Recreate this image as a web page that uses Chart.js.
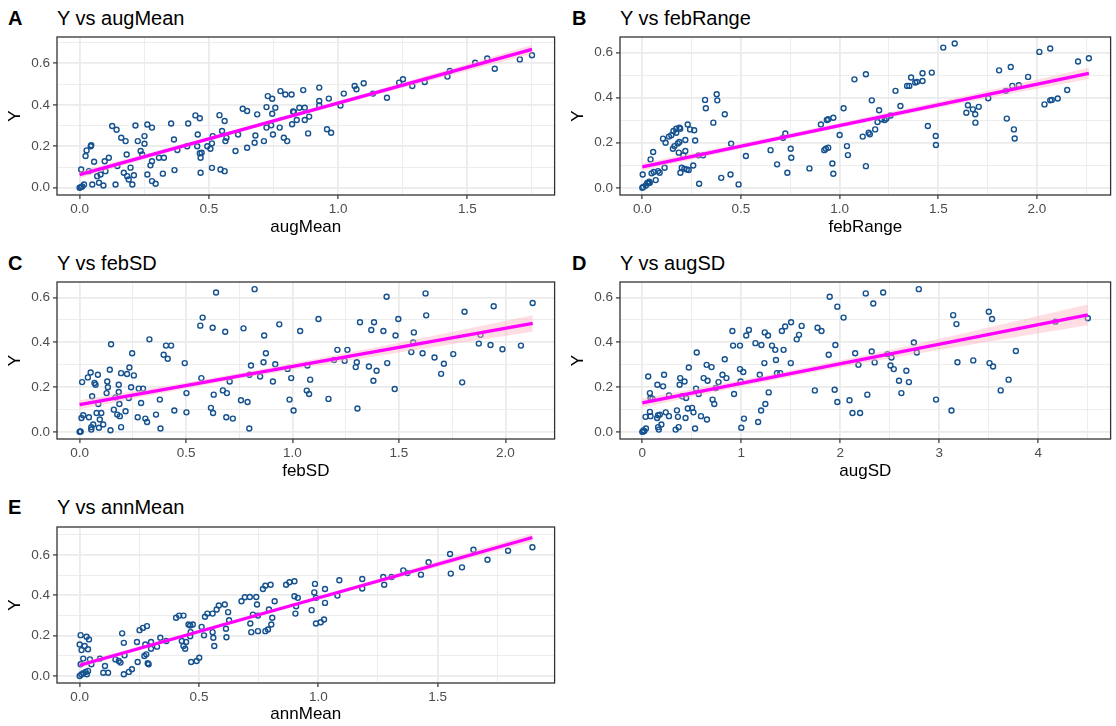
<!DOCTYPE html>
<html>
<head>
<meta charset="utf-8">
<script src="https://cdn.jsdelivr.net/npm/chart.js@4.4.1/dist/chart.umd.min.js"></script>
<style>
  body { margin: 0; background: #fff; width: 1116px; height: 726px; position: relative; overflow: hidden;
         font-family: "Liberation Sans", Arial, sans-serif; }
  canvas { position: absolute; }
  .tag { position: absolute; font-weight: bold; font-size: 20px; line-height: 20px; color: #000; }
  .title { position: absolute; font-size: 20px; line-height: 20px; color: #000; white-space: nowrap; }
</style>
</head>
<body>
<div class="tag" style="left:8px;top:8px">A</div>
<div class="title" style="left:57px;top:8px">Y vs augMean</div>
<div class="tag" style="left:572px;top:8px">B</div>
<div class="title" style="left:620px;top:8px">Y vs febRange</div>
<div class="tag" style="left:8px;top:253px">C</div>
<div class="title" style="left:57px;top:253px">Y vs febSD</div>
<div class="tag" style="left:572px;top:253px">D</div>
<div class="title" style="left:620px;top:253px">Y vs augSD</div>
<div class="tag" style="left:8px;top:497px">E</div>
<div class="title" style="left:57px;top:497px">Y vs annMean</div>

<canvas id="chartA" width="560" height="210" style="left:0px;top:30px"></canvas>
<canvas id="chartB" width="553" height="210" style="left:563px;top:30px"></canvas>
<canvas id="chartC" width="560" height="209" style="left:0px;top:275px"></canvas>
<canvas id="chartD" width="553" height="209" style="left:563px;top:275px"></canvas>
<canvas id="chartE" width="560" height="206" style="left:0px;top:520px"></canvas>

<script>
// ---- shared y axis ----
const yMajor = [0, 0.2, 0.4, 0.6];
const yLabels = ['0.0', '0.2', '0.4', '0.6'];
const yMinor = [0.1, 0.3, 0.5, 0.7];

// ---- A: Y vs augMean ----
const augMeanX = [0, 0.005, 0.01, 0.006, 0.023, 0.027, 0.043, 0.045, 0.017, 0.049, 0.056, 0.036, 0.068, 0.075, 0.092, 0.081, 0.1, 0.097, 0.113,
  0.126, 0.143, 0.139, 0.146, 0.161, 0.178, 0.182, 0.171, 0.184, 0.19, 0.197, 0.204, 0.21, 0.216, 0.225, 0.236, 0.242, 0.251, 0.251,
  0.262, 0.262, 0.28, 0.28, 0.274, 0.28, 0.294, 0.307, 0.326, 0.322, 0.354, 0.365, 0.367, 0.378, 0.42, 0.416, 0.448, 0.457, 0.455,
  0.465, 0.465, 0.468, 0.472, 0.468, 0.494, 0.506, 0.512, 0.515, 0.512, 0.541, 0.545, 0.551, 0.561, 0.561, 0.564, 0.568, 0.603, 0.613,
  0.631, 0.648, 0.648, 0.677, 0.68, 0.687, 0.713, 0.723, 0.728, 0.723, 0.745, 0.745, 0.748, 0.757, 0.741, 0.774, 0.777, 0.796, 0.79,
  0.803, 0.82, 0.826, 0.822, 0.84, 0.829, 0.85, 0.865, 0.871, 0.871, 0.884, 0.888, 0.927, 0.927, 0.927, 0.957, 0.964, 0.973, 1.009,
  1.022, 1.064, 1.071, 1.099, 1.135, 1.189, 1.236, 1.251, 1.287, 1.335, 1.423, 1.432, 1.53, 1.577, 1.606, 1.703, 1.75];
const augMeanY = [0, 0.003, 0.006, 0.088, 0.153, 0.18, 0.2, 0.205, 0.016, 0.016, 0.125, 0.08, 0.056, 0.024, 0.011, 0.064, 0.08, 0.128, 0.145,
  0.298, 0.28, 0.016, 0.105, 0.241, 0.225, 0.16, 0.072, 0.056, 0.04, 0.097, 0.016, 0.06, 0.30, 0.225, 0.177, 0.16, 0.249, 0.212,
  0.064, 0.305, 0.29, 0.032, 0.108, 0.128, 0.019, 0.145, 0.145, 0.068, 0.31, 0.233, 0.085, 0.182, 0.31, 0.2, 0.349, 0.257, 0.2,
  0.335, 0.166, 0.145, 0.169, 0.072, 0.2, 0.188, 0.096, 0.249, 0.214, 0.35, 0.088, 0.274, 0.322, 0.08, 0.225, 0.241, 0.177, 0.257,
  0.381, 0.37, 0.193, 0.217, 0.252, 0.354, 0.225, 0.389, 0.442, 0.29, 0.429, 0.357, 0.257, 0.386, 0.301, 0.29, 0.466, 0.45, 0.241,
  0.225, 0.45, 0.368, 0.306, 0.327, 0.365, 0.386, 0.471, 0.386, 0.327, 0.262, 0.343, 0.483, 0.418, 0.397, 0.282, 0.43, 0.265, 0.397,
  0.454, 0.491, 0.475, 0.504, 0.454, 0.434, 0.507, 0.523, 0.491, 0.51, 0.536, 0.563, 0.603, 0.623, 0.574, 0.619, 0.639];
const augMeanTicks = [0, 0.5, 1.0, 1.5];
const augMeanLabels = ['0.0', '0.5', '1.0', '1.5'];
const augMeanMinor = [0.25, 0.75, 1.25, 1.75];
const augMeanFitX = [0, 1.75];
const augMeanFitY = [0.063, 0.667];
const augMeanBandX = [0, 0.45, 0.9, 1.35, 1.75];
const augMeanBandLo = [0.047, 0.208, 0.365, 0.515, 0.645];
const augMeanBandHi = [0.079, 0.228, 0.383, 0.543, 0.689];

// ---- B: Y vs febRange ----
const febRangeX = [0, 0.005, 0.018, 0.03, 0.038, 0.002, 0.025, 0.035, 0.042, 0.055, 0.047, 0.058, 0.068, 0.08, 0.088, 0.105, 0.118, 0.113,
  0.135, 0.147, 0.158, 0.163, 0.172, 0.172, 0.155, 0.18, 0.188, 0.192, 0.185, 0.188, 0.193, 0.2, 0.208, 0.218, 0.218, 0.213, 0.225,
  0.23, 0.235, 0.242, 0.258, 0.263, 0.268, 0.285, 0.288, 0.308, 0.318, 0.322, 0.36, 0.377, 0.38, 0.4, 0.418, 0.447, 0.45, 0.488,
  0.525, 0.65, 0.683, 0.713, 0.725, 0.735, 0.752, 0.755, 0.847, 0.905, 0.935, 0.942, 0.968, 0.922, 0.93, 0.942, 0.963, 0.968,
  1.0, 1.02, 1.037, 1.042, 1.075, 1.117, 1.133, 1.133, 1.147, 1.153, 1.163, 1.18, 1.192, 1.2, 1.213, 1.228, 1.237, 1.258, 1.283,
  1.308, 1.342, 1.353, 1.362, 1.383, 1.392, 1.42, 1.42, 1.447, 1.467, 1.487, 1.488, 1.525, 1.583, 1.642, 1.65, 1.675, 1.687, 1.688,
  1.705, 1.753, 1.808, 1.842, 1.847, 1.867, 1.875, 1.883, 1.887, 1.908, 1.955, 2.012, 2.038, 2.067, 2.067, 2.075, 2.105, 2.153,
  2.208, 2.263];
const febRangeY = [0, 0.004, 0.01, 0.02, 0.022, 0.059, 0.022, 0.027, 0.126, 0.159, 0.064, 0.07, 0.034, 0.074, 0.067, 0.218, 0.2, 0.089,
  0.227, 0.233, 0.252, 0.185, 0.262, 0.244, 0.173, 0.197, 0.267, 0.262, 0.156, 0.203, 0.067, 0.089, 0.144, 0.212, 0.163, 0.084, 0.081,
  0.281, 0.079, 0.259, 0.099, 0.255, 0.21, 0.144, 0.018, 0.144, 0.39, 0.353, 0.289, 0.415, 0.388, 0.044, 0.326, 0.059, 0.196, 0.015,
  0.141, 0.167, 0.104, 0.222, 0.241, 0.067, 0.173, 0.133, 0.086, 0.281, 0.301, 0.304, 0.311, 0.167, 0.173, 0.178, 0.108, 0.062,
  0.234, 0.353, 0.185, 0.145, 0.481, 0.227, 0.504, 0.096, 0.244, 0.237, 0.388, 0.259, 0.292, 0.344, 0.304, 0.301, 0.307, 0.321, 0.43,
  0.363, 0.452, 0.452, 0.489, 0.467, 0.47, 0.508, 0.474, 0.274, 0.511, 0.23, 0.19, 0.622, 0.64, 0.333, 0.366, 0.348, 0.326, 0.289,
  0.359, 0.397, 0.521, 0.43, 0.307, 0.536, 0.452, 0.259, 0.219, 0.455, 0.492, 0.603, 0.37, 0.618, 0.388, 0.39, 0.396, 0.434,
  0.56, 0.575];
const febRangeTicks = [0, 0.5, 1.0, 1.5, 2.0];
const febRangeLabels = ['0.0', '0.5', '1.0', '1.5', '2.0'];
const febRangeMinor = [0.25, 0.75, 1.25, 1.75, 2.25];
const febRangeFitX = [0, 2.263];
const febRangeFitY = [0.093, 0.508];
const febRangeBandX = [0, 0.55, 1.1, 1.7, 2.263];
const febRangeBandLo = [0.077, 0.183, 0.284, 0.389, 0.483];
const febRangeBandHi = [0.109, 0.205, 0.306, 0.421, 0.533];

// ---- C: Y vs febSD ----
const febSDX = [0, 0.003, 0.005, 0.012, 0.009, 0.017, 0.039, 0.052, 0.044, 0.055, 0.055, 0.059, 0.064, 0.07, 0.075, 0.08, 0.086, 0.088,
  0.091, 0.095, 0.102, 0.111, 0.127, 0.13, 0.133, 0.142, 0.145, 0.148, 0.161, 0.169, 0.177, 0.184, 0.184, 0.187, 0.189, 0.195, 0.195,
  0.216, 0.223, 0.231, 0.234, 0.242, 0.247, 0.255, 0.273, 0.278, 0.289, 0.298, 0.309, 0.317, 0.328, 0.359, 0.377, 0.38, 0.395, 0.406,
  0.414, 0.43, 0.445, 0.494, 0.502, 0.502, 0.567, 0.578, 0.572, 0.617, 0.625, 0.63, 0.627, 0.641, 0.673, 0.684, 0.689, 0.692, 0.705,
  0.72, 0.758, 0.77, 0.789, 0.797, 0.798, 0.805, 0.822, 0.848, 0.864, 0.867, 0.875, 0.908, 0.919, 0.938, 0.977, 0.986, 0.994, 1.005,
  1.036, 1.07, 1.067, 1.078, 1.083, 1.122, 1.169, 1.195, 1.211, 1.245, 1.258, 1.297, 1.302, 1.305, 1.317, 1.359, 1.37, 1.38, 1.383,
  1.395, 1.427, 1.442, 1.445, 1.48, 1.484, 1.497, 1.558, 1.567, 1.57, 1.611, 1.625, 1.628, 1.667, 1.698, 1.711, 1.755, 1.797, 1.808,
  1.875, 1.883, 1.93, 1.945, 1.986, 2.073, 2.128];
const febSDY = [0, 0.002, 0.001, 0.222, 0.062, 0.074, 0.243, 0.265, 0.065, 0.021, 0.01, 0.159, 0.033, 0.218, 0.21, 0.084, 0.255, 0.124,
  0.018, 0.055, 0.084, 0.033, 0.173, 0.225, 0.199, 0.277, 0.007, 0.391, 0.099, 0.154, 0.077, 0.21, 0.178, 0.124, 0.07, 0.262, 0.021,
  0.092, 0.258, 0.151, 0.287, 0.199, 0.351, 0.252, 0.065, 0.193, 0.129, 0.193, 0.059, 0.044, 0.413, 0.077, 0.144, 0.015, 0.344, 0.385,
  0.326, 0.385, 0.095, 0.307, 0.173, 0.087, 0.474, 0.51, 0.24, 0.107, 0.465, 0.166, 0.084, 0.622, 0.185, 0.447, 0.065, 0.173, 0.225,
  0.059, 0.141, 0.462, 0.133, 0.015, 0.255, 0.296, 0.637, 0.247, 0.311, 0.43, 0.351, 0.225, 0.302, 0.48, 0.281, 0.144, 0.24, 0.095,
  0.45, 0.296, 0.184, 0.169, 0.233, 0.504, 0.147, 0.321, 0.366, 0.317, 0.366, 0.289, 0.311, 0.104, 0.489, 0.292, 0.455, 0.228, 0.489,
  0.273, 0.45, 0.603, 0.307, 0.191, 0.43, 0.504, 0.356, 0.399, 0.444, 0.351, 0.618, 0.52, 0.332, 0.259, 0.304, 0.347, 0.221, 0.536,
  0.394, 0.433, 0.388, 0.561, 0.369, 0.385, 0.575];
const febSDTicks = [0, 0.5, 1.0, 1.5, 2.0];
const febSDLabels = ['0.0', '0.5', '1.0', '1.5', '2.0'];
const febSDMinor = [0.25, 0.75, 1.25, 1.75];
const febSDFitX = [0, 2.128];
const febSDFitY = [0.121, 0.484];
const febSDBandX = [0, 0.55, 1.1, 1.65, 2.128];
const febSDBandLo = [0.101, 0.202, 0.294, 0.377, 0.447];
const febSDBandHi = [0.141, 0.228, 0.324, 0.427, 0.521];

// ---- D: Y vs augSD ----
const augSDX = [0, 0.01, 0.02, 0.012, 0.037, 0.033, 0.06, 0.077, 0.083, 0.103, 0.077, 0.083, 0.15, 0.16, 0.167, 0.16, 0.153, 0.177, 0.193,
  0.21, 0.22, 0.237, 0.27, 0.27, 0.337, 0.35, 0.36, 0.367, 0.377, 0.383, 0.403, 0.427, 0.437, 0.443, 0.47, 0.46, 0.503, 0.517, 0.533,
  0.543, 0.55, 0.57, 0.593, 0.62, 0.65, 0.66, 0.653, 0.7, 0.71, 0.727, 0.743, 0.77, 0.81, 0.833, 0.85, 0.91, 0.917, 0.927, 0.987,
  0.987, 0.993, 1.0, 1.02, 1.027, 1.05, 1.077, 1.143, 1.17, 1.187, 1.2, 1.203, 1.233, 1.237, 1.243, 1.27, 1.277, 1.31, 1.343, 1.35,
  1.36, 1.393, 1.41, 1.427, 1.443, 1.503, 1.5, 1.56, 1.583, 1.61, 1.743, 1.77, 1.81, 1.883, 1.893, 1.943, 1.95, 1.97, 1.97,
  2.033, 2.093, 2.123, 2.15, 2.183, 2.2, 2.257, 2.273, 2.317, 2.333, 2.347, 2.433, 2.477, 2.507, 2.517, 2.54, 2.593, 2.617, 2.667,
  2.693, 2.743, 2.773, 2.793, 2.967, 3.123, 3.14, 3.173, 3.183, 3.343, 3.5, 3.507, 3.533, 3.543, 3.62, 3.7, 3.773, 4.173, 4.5];
const augSDY = [0, 0.002, 0.004, 0.006, 0.015, 0.067, 0.247, 0.173, 0.151, 0.148, 0.089, 0.07, 0.062, 0.021, 0.01, 0.074, 0.21, 0.077, 0.033,
  0.203, 0.255, 0.087, 0.07, 0.163, 0.01, 0.096, 0.067, 0.021, 0.21, 0.24, 0.159, 0.225, 0.062, 0.151, 0.287, 0.104, 0.107, 0.087, 0.015,
  0.193, 0.354, 0.169, 0.07, 0.24, 0.299, 0.228, 0.055, 0.289, 0.144, 0.124, 0.196, 0.222, 0.255, 0.324, 0.24, 0.45, 0.385, 0.169, 0.385,
  0.28, 0.225, 0.018, 0.267, 0.059, 0.43, 0.455, 0.396, 0.044, 0.255, 0.095, 0.388, 0.307, 0.444, 0.124, 0.43, 0.176, 0.385, 0.366, 0.321,
  0.262, 0.262, 0.45, 0.366, 0.47, 0.489, 0.307, 0.413, 0.433, 0.473, 0.185, 0.465, 0.45, 0.344, 0.603, 0.188, 0.388, 0.559, 0.133,
  0.51, 0.141, 0.084, 0.351, 0.299, 0.084, 0.618, 0.166, 0.359, 0.573, 0.31, 0.622, 0.347, 0.296, 0.332, 0.28, 0.228, 0.173, 0.273,
  0.222, 0.399, 0.354, 0.637, 0.144, 0.095, 0.521, 0.481, 0.311, 0.319, 0.536, 0.307, 0.504, 0.292, 0.185, 0.233, 0.361, 0.492, 0.507];
const augSDTicks = [0, 1, 2, 3, 4];
const augSDLabels = ['0', '1', '2', '3', '4'];
const augSDMinor = [0.5, 1.5, 2.5, 3.5, 4.5];
const augSDFitX = [0, 4.5];
const augSDFitY = [0.129, 0.522];
const augSDBandX = [0, 1.1, 2.2, 3.3, 4.5];
const augSDBandLo = [0.109, 0.211, 0.305, 0.388, 0.476];
const augSDBandHi = [0.149, 0.239, 0.337, 0.446, 0.568];

// ---- E: Y vs annMean ----
const annMeanX = [0, 0.007, 0.015, 0.025, 0.03, 0, 0.004, 0.008, 0.004, 0.015, 0.021, 0.029, 0.035, 0.039, 0.035, 0.043, 0.049, 0.085,
  0.099, 0.106, 0.119, 0.15, 0.164, 0.171, 0.178, 0.185, 0.185, 0.188, 0.206, 0.219, 0.24, 0.243, 0.251, 0.265, 0.282, 0.271, 0.275,
  0.279, 0.285, 0.289, 0.299, 0.299, 0.324, 0.338, 0.363, 0.404, 0.417, 0.435, 0.428, 0.435, 0.442, 0.446, 0.456, 0.463, 0.465, 0.463,
  0.467, 0.474, 0.49, 0.501, 0.511, 0.521, 0.525, 0.535, 0.557, 0.557, 0.56, 0.564, 0.574, 0.583, 0.608, 0.613, 0.615, 0.622, 0.626,
  0.678, 0.692, 0.713, 0.715, 0.719, 0.726, 0.74, 0.743, 0.747, 0.747, 0.768, 0.778, 0.778, 0.789, 0.793, 0.8, 0.803, 0.807, 0.817,
  0.865, 0.879, 0.9, 0.9, 0.904, 0.907, 0.914, 0.972, 0.986, 0.983, 0.99, 0.99, 1.01, 1.024, 1.028, 1.028, 1.08, 1.088, 1.184, 1.184,
  1.272, 1.276, 1.307, 1.356, 1.373, 1.43, 1.462, 1.552, 1.555, 1.602, 1.65, 1.709, 1.795, 1.897];
const annMeanY = [0, 0.007, 0.013, 0.02, 0.008, 0.156, 0.202, 0.128, 0.058, 0.086, 0.148, 0.194, 0.132, 0.181, 0.025, 0.082, 0.058, 0.086,
  0.016, 0.049, 0.016, 0.082, 0.074, 0.066, 0.211, 0.164, 0.008, 0.102, 0.02, 0.033, 0.168, 0.069, 0.227, 0.238, 0.247, 0.099, 0.156,
  0.107, 0.063, 0.058, 0.168, 0.135, 0.145, 0.189, 0.173, 0.288, 0.299, 0.299, 0.173, 0.148, 0.135, 0.168, 0.255, 0.25, 0.217, 0.197,
  0.069, 0.255, 0.074, 0.09, 0.243, 0.201, 0.293, 0.309, 0.309, 0.217, 0.189, 0.148, 0.329, 0.349, 0.354, 0.234, 0.192, 0.316, 0.276,
  0.37, 0.39, 0.391, 0.26, 0.217, 0.304, 0.391, 0.354, 0.299, 0.222, 0.431, 0.447, 0.222, 0.23, 0.329, 0.452, 0.255, 0.288, 0.37,
  0.452, 0.464, 0.469, 0.395, 0.309, 0.345, 0.387, 0.326, 0.456, 0.414, 0.387, 0.26, 0.266, 0.28, 0.431, 0.362, 0.398, 0.474, 0.48, 0.433,
  0.49, 0.452, 0.49, 0.523, 0.51, 0.502, 0.563, 0.604, 0.507, 0.538, 0.625, 0.576, 0.62, 0.638];
const annMeanTicks = [0, 0.5, 1.0, 1.5];
const annMeanLabels = ['0.0', '0.5', '1.0', '1.5'];
const annMeanMinor = [0.25, 0.75, 1.25, 1.75];
const annMeanFitX = [0, 1.897];
const annMeanFitY = [0.053, 0.686];
const annMeanBandX = [0, 0.47, 0.95, 1.42, 1.897];
const annMeanBandLo = [0.039, 0.201, 0.361, 0.514, 0.666];
const annMeanBandHi = [0.067, 0.219, 0.379, 0.54, 0.706];

// ---- drawing ----
const FONT = "'Liberation Sans', Arial, sans-serif";
const pointColor = '#15528F';
const gridColor = '#EBEBEB';
const frameColor = '#333333';

const panelBorder = {
  id: 'panelBorder',
  afterDraw(chart) {
    const { ctx, chartArea: a } = chart;
    ctx.save();
    ctx.strokeStyle = frameColor;
    ctx.lineWidth = 1.3;
    ctx.strokeRect(a.left, a.top, a.right - a.left, a.bottom - a.top);
    ctx.restore();
  }
};

function toXY(xs, ys) {
  return xs.map((x, i) => ({ x: x, y: ys[i] }));
}

function axisConfig(major, labels, minor, min, max, title, isX, size) {
  const ticks = major.concat(minor).filter(v => v >= min && v <= max).sort((a, b) => a - b);
  const isMajor = v => major.indexOf(v) >= 0;
  return {
    type: 'linear',
    min: min,
    max: max,
    afterBuildTicks: scale => { scale.ticks = ticks.map(v => ({ value: v })); },
    afterFit: scale => {
      if (isX) scale.height = size; else scale.width = size;
      scale.paddingTop = 0; scale.paddingBottom = 0;
      scale.paddingLeft = 0; scale.paddingRight = 0;
    },
    border: { display: false },
    grid: {
      color: gridColor,
      lineWidth: ctx => (ctx.tick && isMajor(ctx.tick.value)) ? 1.8 : 0.9,
      drawTicks: true,
      tickLength: 4,
      tickWidth: 1.2,
      tickColor: ctx => (ctx.tick && isMajor(ctx.tick.value)) ? frameColor : 'rgba(0,0,0,0)'
    },
    ticks: {
      autoSkip: false,
      maxRotation: 0,
      padding: isX ? 2 : 3,
      color: '#4D4D4D',
      font: { family: FONT, size: 13.5 },
      callback: v => { const i = major.indexOf(v); return i >= 0 ? labels[i] : ''; }
    },
    title: {
      display: true,
      text: title,
      color: '#000',
      font: { family: FONT, size: 17 },
      padding: isX ? { top: 0, bottom: title === 'annMean' ? 1 : 2 } : { top: 5, bottom: 0 }
    }
  };
}

function makePanel(id, p) {
  new Chart(document.getElementById(id), {
    type: 'scatter',
    data: {
      datasets: [
        { // fitted line
          data: toXY(p.fitX, p.fitY), showLine: true, borderColor: '#FF00FF', borderWidth: 3.3,
          pointRadius: 0, fill: false, order: 0
        },
        { // confidence band upper
          data: toXY(p.bandX, p.bandHi), showLine: true, borderWidth: 0, pointRadius: 0,
          cubicInterpolationMode: 'monotone', fill: '+1', backgroundColor: 'rgba(255,182,193,0.45)', order: 1
        },
        { // confidence band lower
          data: toXY(p.bandX, p.bandLo), showLine: true, borderWidth: 0, pointRadius: 0,
          cubicInterpolationMode: 'monotone', fill: false, order: 2
        },
        { // observations
          data: toXY(p.xs, p.ys), showLine: false, pointRadius: 2.5, borderWidth: 1.4,
          borderColor: pointColor, backgroundColor: 'rgba(0,0,0,0)', order: 3
        }
      ]
    },
    options: {
      responsive: false,
      animation: false,
      devicePixelRatio: 1,
      layout: { padding: { top: 7, right: p.padRight, left: 0, bottom: 0 } },
      plugins: { legend: { display: false }, tooltip: { enabled: false } },
      scales: {
        x: axisConfig(p.xMajor, p.xLabels, p.xMinor, p.xMin, p.xMax, p.xTitle, true, p.xAxisHeight),
        y: axisConfig(yMajor, yLabels, yMinor, p.yMin, p.yMax, 'Y', false, 57)
      }
    },
    plugins: [panelBorder]
  });
}

makePanel('chartA', {
  xs: augMeanX, ys: augMeanY, fitX: augMeanFitX, fitY: augMeanFitY,
  bandX: augMeanBandX, bandLo: augMeanBandLo, bandHi: augMeanBandHi,
  xMajor: augMeanTicks, xLabels: augMeanLabels, xMinor: augMeanMinor,
  xMin: -0.0875, xMax: 1.8375, yMin: -0.035, yMax: 0.727, xTitle: 'augMean', padRight: 5, xAxisHeight: 45
});
makePanel('chartB', {
  xs: febRangeX, ys: febRangeY, fitX: febRangeFitX, fitY: febRangeFitY,
  bandX: febRangeBandX, bandLo: febRangeBandLo, bandHi: febRangeBandHi,
  xMajor: febRangeTicks, xLabels: febRangeLabels, xMinor: febRangeMinor,
  xMin: -0.113, xMax: 2.373, yMin: -0.032, yMax: 0.669, xTitle: 'febRange', padRight: 2, xAxisHeight: 45
});
makePanel('chartC', {
  xs: febSDX, ys: febSDY, fitX: febSDFitX, fitY: febSDFitY,
  bandX: febSDBandX, bandLo: febSDBandLo, bandHi: febSDBandHi,
  xMajor: febSDTicks, xLabels: febSDLabels, xMinor: febSDMinor,
  xMin: -0.106, xMax: 2.231, yMin: -0.032, yMax: 0.669, xTitle: 'febSD', padRight: 5, xAxisHeight: 45
});
makePanel('chartD', {
  xs: augSDX, ys: augSDY, fitX: augSDFitX, fitY: augSDFitY,
  bandX: augSDBandX, bandLo: augSDBandLo, bandHi: augSDBandHi,
  xMajor: augSDTicks, xLabels: augSDLabels, xMinor: augSDMinor,
  xMin: -0.225, xMax: 4.73, yMin: -0.032, yMax: 0.669, xTitle: 'augSD', padRight: 2, xAxisHeight: 45
});
makePanel('chartE', {
  xs: annMeanX, ys: annMeanY, fitX: annMeanFitX, fitY: annMeanFitY,
  bandX: annMeanBandX, bandLo: annMeanBandLo, bandHi: annMeanBandHi,
  xMajor: annMeanTicks, xLabels: annMeanLabels, xMinor: annMeanMinor,
  xMin: -0.095, xMax: 1.99, yMin: -0.035, yMax: 0.738, xTitle: 'annMean', padRight: 5, xAxisHeight: 43
});
</script>
</body>
</html>
